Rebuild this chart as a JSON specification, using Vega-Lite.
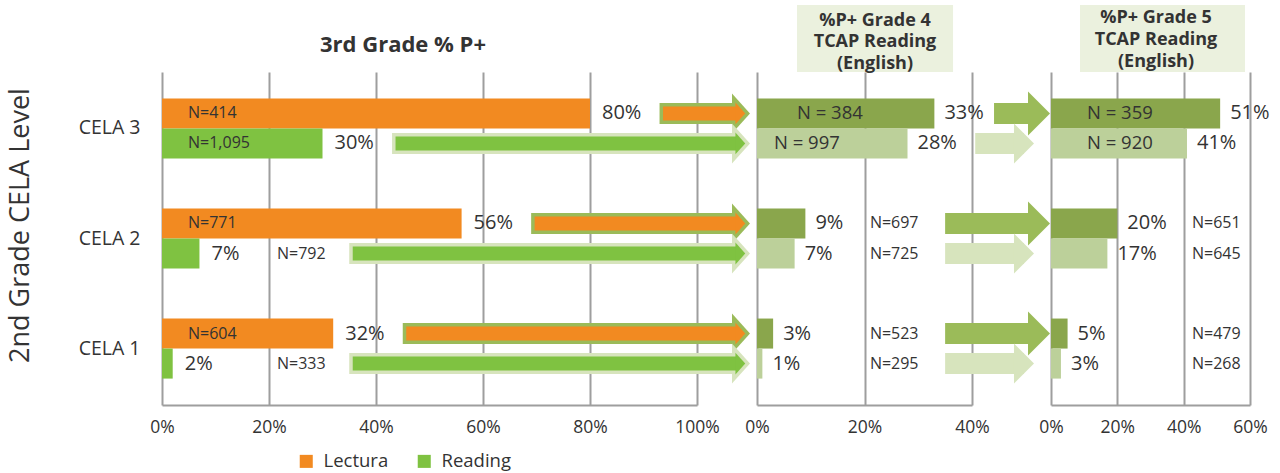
{
  "$schema": "https://vega.github.io/schema/vega-lite/v6.json",
  "autosize": {"type": "pad"},
  "padding": {"left": 6, "top": 5, "right": 5, "bottom": 2},
  "background": "white",
  "config": {
    "view": {"stroke": null},
    "font": "Open Sans",
    "text": {"color": "#333333", "font": "Open Sans"},
    "axis": {
      "labelColor": "#333333", "titleColor": "#333333",
      "labelFont": "Open Sans", "titleFont": "Open Sans",
      "domainColor": "#9e9e9e", "gridColor": "#9e9e9e",
      "domainWidth": 2, "gridWidth": 2, "gridOpacity": 1,
      "ticks": false, "tickSize": 0
    },
    "legend": {"labelFont": "Open Sans", "labelColor": "#333333"}
  },
  "datasets": {
    "g3": [
      {"cela": "CELA 3", "series": "Lectura", "pct": 0.80, "n": "N=414"},
      {"cela": "CELA 3", "series": "Reading", "pct": 0.30, "n": "N=1,095"},
      {"cela": "CELA 2", "series": "Lectura", "pct": 0.56, "n": "N=771"},
      {"cela": "CELA 2", "series": "Reading", "pct": 0.07, "n": "N=792"},
      {"cela": "CELA 1", "series": "Lectura", "pct": 0.32, "n": "N=604"},
      {"cela": "CELA 1", "series": "Reading", "pct": 0.02, "n": "N=333"}
    ],
    "g4": [
      {"cela": "CELA 3", "series": "Lectura", "pct": 0.33, "n": "N = 384"},
      {"cela": "CELA 3", "series": "Reading", "pct": 0.28, "n": "N = 997"},
      {"cela": "CELA 2", "series": "Lectura", "pct": 0.09, "n": "N=697"},
      {"cela": "CELA 2", "series": "Reading", "pct": 0.07, "n": "N=725"},
      {"cela": "CELA 1", "series": "Lectura", "pct": 0.03, "n": "N=523"},
      {"cela": "CELA 1", "series": "Reading", "pct": 0.01, "n": "N=295"}
    ],
    "g5": [
      {"cela": "CELA 3", "series": "Lectura", "pct": 0.51, "n": "N = 359"},
      {"cela": "CELA 3", "series": "Reading", "pct": 0.41, "n": "N = 920"},
      {"cela": "CELA 2", "series": "Lectura", "pct": 0.20, "n": "N=651"},
      {"cela": "CELA 2", "series": "Reading", "pct": 0.17, "n": "N=645"},
      {"cela": "CELA 1", "series": "Lectura", "pct": 0.05, "n": "N=479"},
      {"cela": "CELA 1", "series": "Reading", "pct": 0.03, "n": "N=268"}
    ],
    "titles": [
      {"panel": "g3", "text": ["3rd Grade % P+"]},
      {"panel": "g4", "text": ["%P+ Grade 4", "TCAP Reading", "(English)"]},
      {"panel": "g5", "text": ["%P+ Grade 5", "TCAP Reading", "(English)"]}
    ]
  },
  "columns": 3,
  "align": "each",
  "bounds": "flush",
  "spacing": {"row": 0, "column": 60},
  "resolve": {"scale": {"yOffset": "independent"}},
  "concat": [
    {
      "width": 535, "height": 67,
      "data": {"name": "titles"},
      "transform": [{"filter": "datum.panel === 'g3'"}],
      "mark": {"type": "text", "fontSize": 22, "fontWeight": "bold", "dy": 6.5},
      "encoding": {
        "x": {"datum": 0.4505, "scale": {"domain": [0, 1], "nice": false}, "axis": null},
        "y": {"datum": 0.5, "scale": {"domain": [0, 1], "nice": false}, "axis": null},
        "text": {"field": "text"}
      }
    },
    {
      "width": 234, "height": 67,
      "data": {"name": "titles"},
      "transform": [{"filter": "datum.panel === 'g4'"}],
      "layer": [
        {
          "mark": {"type": "rect", "color": "#ebf1de"},
          "encoding": {
            "x": {"datum": 0.0744, "scale": {"domain": [0, 0.4353], "nice": false}, "axis": null},
            "x2": {"datum": 0.3647},
            "y": {"datum": 0, "scale": {"domain": [0, 1], "nice": false}, "axis": null},
            "y2": {"datum": 1}
          }
        },
        {
          "mark": {"type": "text", "fontSize": 18, "fontWeight": "bold", "lineHeight": 21.5, "dy": -18},
          "encoding": {
            "x": {"datum": 0.2195},
            "y": {"datum": 0.5},
            "text": {"field": "text"}
          }
        }
      ]
    },
    {
      "width": 199, "height": 67,
      "data": {"name": "titles"},
      "transform": [{"filter": "datum.panel === 'g5'"}],
      "layer": [
        {
          "mark": {"type": "rect", "color": "#ebf1de"},
          "encoding": {
            "x": {"datum": 0.0874, "scale": {"domain": [0, 0.6], "nice": false}, "axis": null},
            "x2": {"datum": 0.585},
            "y": {"datum": 0, "scale": {"domain": [0, 1], "nice": false}, "axis": null},
            "y2": {"datum": 1}
          }
        },
        {
          "mark": {"type": "text", "fontSize": 18, "fontWeight": "bold", "lineHeight": 22, "dy": -21},
          "encoding": {
            "x": {"datum": 0.3166},
            "y": {"datum": 0.5},
            "text": {"field": "text"}
          }
        }
      ]
    },
    {
      "width": 535, "height": 333,
      "data": {"name": "g3"},
      "encoding": {
        "y": {
          "field": "cela", "type": "nominal", "sort": ["CELA 3", "CELA 2", "CELA 1"],
          "scale": {"paddingInner": 0.4545, "paddingOuter": 0.24},
          "axis": {
            "title": "2nd Grade CELA Level", "titleFontSize": 27, "titleFontWeight": "normal",
            "titlePadding": 44, "titleY": 153, "labelFontSize": 19.5, "labelPadding": 22,
            "domain": false, "grid": false, "ticks": false
          }
        },
        "yOffset": {
          "field": "series", "type": "nominal", "sort": ["Lectura", "Reading"],
          "scale": {"paddingInner": 0, "paddingOuter": 0}
        }
      },
      "layer": [
        {
          "mark": {"type": "bar"},
          "encoding": {
            "x": {
              "field": "pct", "type": "quantitative",
              "scale": {"domain": [0, 1], "nice": false},
              "axis": {"values": [0, 0.2, 0.4, 0.6, 0.8, 1], "format": ".0%", "title": null, "grid": true, "domain": true, "labelFontSize": 17.5, "labelPadding": 13, "labelFlush": false}
            },
            "color": {
              "field": "series", "type": "nominal",
              "scale": {"domain": ["Lectura", "Reading"], "range": ["#f28a21", "#7fc241"]},
              "legend": {
                "orient": "none", "legendX": 135, "legendY": 447, "direction": "horizontal",
                "title": null, "symbolType": "square", "symbolSize": 170, "symbolStrokeWidth": 0,
                "labelFontSize": 18.5, "labelOffset": 8, "columnPadding": 26
              }
            }
          }
        },
        {
          "transform": [{"calculate": "datum.pct >= 0.25 ? datum.pct + 0.13 : 0.35", "as": "a0"}],
          "mark": {"type": "bar", "height": 21},
          "encoding": {
            "x": {"field": "a0", "type": "quantitative"},
            "x2": {"datum": 1.0766},
            "color": {"condition": {"test": "datum.series === 'Lectura'", "value": "#9bbb59"}, "value": "#d7e4bd"}
          }
        },
        {
          "mark": {"type": "point", "shape": "M -0.45 -1 L 0.45 0 L -0.45 1 Z", "size": 1600, "filled": true, "opacity": 1, "strokeWidth": 0},
          "encoding": {
            "x": {"datum": 1.0822},
            "color": {"condition": {"test": "datum.series === 'Lectura'", "value": "#9bbb59"}, "value": "#d7e4bd"}
          }
        },
        {
          "transform": [{"calculate": "datum.pct >= 0.25 ? datum.pct + 0.1365 : 0.3565", "as": "a1"}],
          "mark": {"type": "bar", "height": 14},
          "encoding": {
            "x": {"field": "a1", "type": "quantitative"},
            "x2": {"datum": 1.0766},
            "color": {"field": "series", "type": "nominal"}
          }
        },
        {
          "mark": {"type": "point", "shape": "M -0.45 -1 L 0.45 0 L -0.45 1 Z", "size": 474, "filled": true, "opacity": 1, "strokeWidth": 0},
          "encoding": {
            "x": {"datum": 1.081},
            "color": {"field": "series", "type": "nominal"}
          }
        },
        {
          "mark": {"type": "text", "align": "left", "dx": 12, "fontSize": 20},
          "encoding": {
            "x": {"field": "pct", "type": "quantitative"},
            "text": {"field": "pct", "type": "quantitative", "format": ".0%"}
          }
        },
        {
          "transform": [{"filter": "datum.pct >= 0.25"}],
          "mark": {"type": "text", "align": "left", "dx": 26, "fontSize": 16},
          "encoding": {"x": {"datum": 0}, "text": {"field": "n"}}
        },
        {
          "transform": [{"filter": "datum.pct < 0.25"}],
          "mark": {"type": "text", "align": "left", "fontSize": 16},
          "encoding": {"x": {"datum": 0.215}, "text": {"field": "n"}}
        }
      ]
    },
    {
      "width": 215, "height": 333,
      "data": {"name": "g4"},
      "encoding": {
        "y": {
          "field": "cela", "type": "nominal", "sort": ["CELA 3", "CELA 2", "CELA 1"],
          "scale": {"paddingInner": 0.4545, "paddingOuter": 0.24},
          "axis": null
        },
        "yOffset": {
          "field": "series", "type": "nominal", "sort": ["Lectura", "Reading"],
          "scale": {"paddingInner": 0, "paddingOuter": 0}
        }
      },
      "layer": [
        {
          "mark": {"type": "bar"},
          "encoding": {
            "x": {
              "field": "pct", "type": "quantitative",
              "scale": {"domain": [0, 0.4], "nice": false},
              "axis": {"values": [0, 0.2, 0.4], "format": ".0%", "title": null, "grid": true, "domain": true, "labelFontSize": 17.5, "labelPadding": 13, "labelFlush": false}
            },
            "color": {"condition": {"test": "datum.series === 'Lectura'", "value": "#8aa64c"}, "value": "#bcd09a"}
          }
        },
        {
          "transform": [
            {"filter": "datum.series === 'Lectura'"},
            {"calculate": "datum.pct >= 0.25 ? datum.pct + 0.111 : 0.35", "as": "a0"}
          ],
          "mark": {"type": "bar", "height": 21, "color": "#9bbb59"},
          "encoding": {"x": {"field": "a0", "type": "quantitative"}, "x2": {"datum": 0.5247}}
        },
        {
          "transform": [{"filter": "datum.series === 'Lectura'"}],
          "mark": {"type": "point", "shape": "M -0.5 -1 L 0.5 0 L -0.5 1 Z", "size": 1936, "filled": true, "opacity": 1, "strokeWidth": 0, "color": "#9bbb59"},
          "encoding": {"x": {"datum": 0.5247}}
        },
        {
          "transform": [
            {"filter": "datum.series === 'Reading'"},
            {"calculate": "datum.pct >= 0.25 ? datum.pct + 0.126 : 0.35", "as": "a0"}
          ],
          "mark": {"type": "bar", "height": 21, "color": "#d7e4bd"},
          "encoding": {"x": {"field": "a0", "type": "quantitative"}, "x2": {"datum": 0.4967}}
        },
        {
          "transform": [{"filter": "datum.series === 'Reading'"}],
          "mark": {"type": "point", "shape": "M -0.5 -1 L 0.5 0 L -0.5 1 Z", "size": 1600, "filled": true, "opacity": 1, "strokeWidth": 0, "color": "#d7e4bd"},
          "encoding": {"x": {"datum": 0.4967}}
        },
        {
          "mark": {"type": "text", "align": "left", "dx": 10, "fontSize": 20},
          "encoding": {
            "x": {"field": "pct", "type": "quantitative"},
            "text": {"field": "pct", "type": "quantitative", "format": ".0%"}
          }
        },
        {
          "transform": [{"filter": "datum.pct >= 0.25 && datum.series === 'Lectura'"}],
          "mark": {"type": "text", "align": "left", "dx": 40, "fontSize": 18.5},
          "encoding": {"x": {"datum": 0}, "text": {"field": "n"}}
        },
        {
          "transform": [{"filter": "datum.pct >= 0.25 && datum.series === 'Reading'"}],
          "mark": {"type": "text", "align": "left", "dx": 17, "fontSize": 18.5},
          "encoding": {"x": {"datum": 0}, "text": {"field": "n"}}
        },
        {
          "transform": [{"filter": "datum.pct < 0.25"}],
          "mark": {"type": "text", "align": "left", "fontSize": 16},
          "encoding": {"x": {"datum": 0.21}, "text": {"field": "n"}}
        }
      ]
    },
    {
      "width": 199, "height": 333,
      "data": {"name": "g5"},
      "encoding": {
        "y": {
          "field": "cela", "type": "nominal", "sort": ["CELA 3", "CELA 2", "CELA 1"],
          "scale": {"paddingInner": 0.4545, "paddingOuter": 0.24},
          "axis": null
        },
        "yOffset": {
          "field": "series", "type": "nominal", "sort": ["Lectura", "Reading"],
          "scale": {"paddingInner": 0, "paddingOuter": 0}
        }
      },
      "layer": [
        {
          "mark": {"type": "bar"},
          "encoding": {
            "x": {
              "field": "pct", "type": "quantitative",
              "scale": {"domain": [0, 0.6], "nice": false},
              "axis": {"values": [0, 0.2, 0.4, 0.6], "format": ".0%", "title": null, "grid": true, "domain": true, "labelFontSize": 17.5, "labelPadding": 13, "labelFlush": false}
            },
            "color": {"condition": {"test": "datum.series === 'Lectura'", "value": "#8aa64c"}, "value": "#bcd09a"}
          }
        },
        {
          "mark": {"type": "text", "align": "left", "dx": 10, "fontSize": 20},
          "encoding": {
            "x": {"field": "pct", "type": "quantitative"},
            "text": {"field": "pct", "type": "quantitative", "format": ".0%"}
          }
        },
        {
          "transform": [{"filter": "datum.pct >= 0.25"}],
          "mark": {"type": "text", "align": "left", "dx": 36, "fontSize": 18.5},
          "encoding": {"x": {"datum": 0}, "text": {"field": "n"}}
        },
        {
          "transform": [{"filter": "datum.pct < 0.25"}],
          "mark": {"type": "text", "align": "left", "fontSize": 16},
          "encoding": {"x": {"datum": 0.425}, "text": {"field": "n"}}
        }
      ]
    }
  ]
}
